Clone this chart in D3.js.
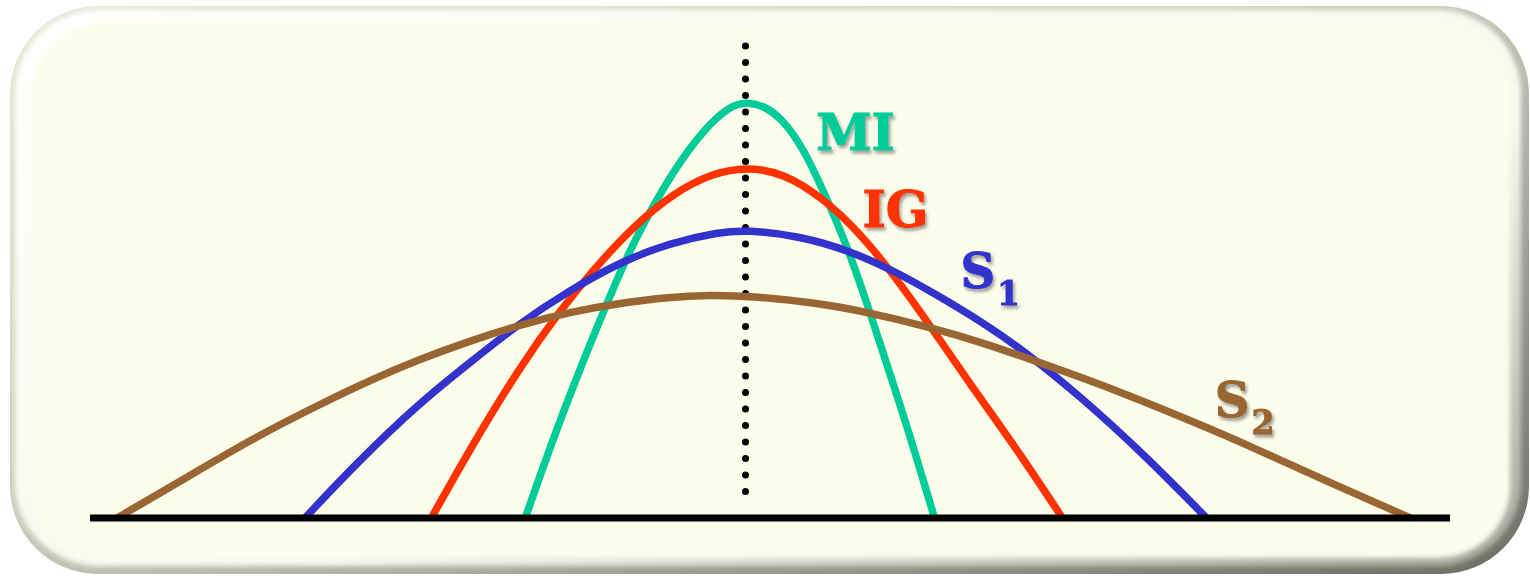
<!DOCTYPE html>
<html>
<head>
<meta charset="utf-8">
<script src="https://cdn.jsdelivr.net/npm/d3@7"></script>
<style>
  html, body { margin: 0; padding: 0; background: #ffffff; }
  svg { display: block; }
</style>
</head>
<body>
<div id="chart"></div>
<script>
// curve samples: [position, height], both in 0..100 units
const miPoints = [[32.0, 0], [34.8, 21.6], [38.0, 43.0], [40.0, 55.6], [42.9, 69.6], [45.1, 77.6], [47.0, 82.4],
  [48.3, 83.2], [49.6, 82.4], [50.9, 79.8], [52.4, 74.2], [53.9, 65.6], [55.7, 54.2], [57.1, 43.2], [58.8, 29.0],
  [60.3, 16.4], [62.1, 0]];
const igPoints = [[25.1, 0], [27.9, 13.6], [31.6, 30.2], [34.6, 41.6], [37.0, 49.6], [39.9, 58.2], [42.9, 65.0],
  [45.8, 69.0], [48.3, 70.2], [51.0, 69.0], [53.9, 64.0], [56.6, 57.0], [59.0, 49.0], [62.0, 37.6], [64.5, 27.6],
  [68.2, 13.6], [71.5, 0]];
const s1Points = [[15.8, 0], [19.6, 11.0], [24.3, 23.2], [27.9, 31.0], [31.4, 38.6], [35.3, 45.6], [39.0, 51.2],
  [42.6, 55.0], [46.3, 57.2], [48.3, 57.6], [52.2, 56.4], [55.9, 53.4], [59.0, 49.6], [62.3, 44.6], [65.7, 39.0],
  [68.6, 33.6], [72.8, 24.4], [77.7, 12.2], [82.1, 0]];
const s2Points = [[2.0, 0], [7.4, 8.6], [12.3, 16.4], [17.1, 23.0], [20.8, 27.8], [24.3, 31.8], [27.9, 35.4],
  [31.6, 38.6], [35.3, 41.2], [39.0, 43.0], [42.6, 44.2], [45.6, 44.6], [48.5, 44.4], [53.5, 43.0], [57.1, 41.2],
  [62.0, 38.0], [65.7, 35.0], [69.3, 31.6], [72.8, 28.2], [76.5, 24.4], [80.1, 20.4], [83.8, 16.2], [87.5, 11.6],
  [92.4, 5.6], [97.1, 0]];

const seriesNames = ["MI", "IG", "S", "S"];
const seriesSubs = ["", "", "1", "2"];
const seriesPoints = [miPoints, igPoints, s1Points, s2Points];
const labelAnchors = [[53.4, 73.6], [56.8, 58.2], [64.0, 46.0], [82.7, 20.2]];
const peakLine = { x: 48.2, from: 3, to: 94.4 };

const colors = ["#00cc99", "#ff3300", "#3333cc", "#996633"];

const width = 1530,
  height = 581;

const x = d3.scaleLinear().domain([0, 100]).range([90, 1450]);
const y = d3.scaleLinear().domain([0, 100]).range([518, 18]);

const svg = d3.select("#chart").append("svg").attr("width", width).attr("height", height);
const defs = svg.append("defs");

// frame gradients + shadow
const rim = defs.append("linearGradient").attr("id", "rim").attr("x1", 0).attr("y1", 0).attr("x2", 1).attr("y2", 1);
rim.append("stop").attr("offset", "0%").attr("stop-color", "#e8e8da");
rim.append("stop").attr("offset", "45%").attr("stop-color", "#cdcdbf");
rim.append("stop").attr("offset", "100%").attr("stop-color", "#6e6e66");

const shine = defs.append("linearGradient").attr("id", "shine").attr("x1", 0).attr("y1", 0).attr("x2", 1).attr("y2", 1);
shine.append("stop").attr("offset", "0%").attr("stop-color", "#ffffff");
shine.append("stop").attr("offset", "60%").attr("stop-color", "#f8f8ec");
shine.append("stop").attr("offset", "100%").attr("stop-color", "#a5a59c");

defs.append("filter").attr("id", "soft").append("feGaussianBlur").attr("stdDeviation", 2.5);

const shadow = defs.append("filter").attr("id", "txtShadow").attr("x", "-20%").attr("y", "-20%").attr("width", "140%").attr("height", "140%");
shadow.append("feDropShadow").attr("dx", 2).attr("dy", 3).attr("stdDeviation", 1.5)
  .attr("flood-color", "#555").attr("flood-opacity", 0.55);

// rounded frame
svg.append("rect").attr("x", 10).attr("y", 6).attr("width", 1519).attr("height", 568).attr("rx", 88).attr("fill", "url(#rim)");
svg.append("rect").attr("x", 15).attr("y", 10).attr("width", 1506).attr("height", 556).attr("rx", 84)
  .attr("fill", "url(#shine)").attr("filter", "url(#soft)");
svg.append("rect").attr("x", 32).attr("y", 24).attr("width", 1478).attr("height", 534).attr("rx", 72)
  .attr("fill", "#fdfdeb").attr("filter", "url(#soft)");

// dotted peak line
svg.append("line")
  .attr("x1", x(peakLine.x)).attr("x2", x(peakLine.x))
  .attr("y1", y(peakLine.to)).attr("y2", y(peakLine.from))
  .attr("stroke", "#000").attr("stroke-width", 7)
  .attr("stroke-linecap", "round").attr("stroke-dasharray", "0 16.5");

// curves
const line = d3.line().x((d) => x(d[0])).y((d) => y(d[1])).curve(d3.curveBasis);

svg.append("g")
  .selectAll("path")
  .data(seriesPoints)
  .join("path")
  .attr("d", line)
  .attr("fill", "none")
  .attr("stroke", (d, i) => colors[i])
  .attr("stroke-width", 7.5);

// baseline
svg.append("line")
  .attr("x1", x(0)).attr("x2", x(100))
  .attr("y1", y(0)).attr("y2", y(0))
  .attr("stroke", "#000").attr("stroke-width", 7);

// labels
const labels = svg.append("g")
  .attr("font-family", "'DejaVu Serif', serif")
  .attr("font-weight", "bold")
  .attr("filter", "url(#txtShadow)")
  .selectAll("text")
  .data(seriesNames)
  .join("text")
  .attr("x", (d, i) => x(labelAnchors[i][0]))
  .attr("y", (d, i) => y(labelAnchors[i][1]))
  .attr("fill", (d, i) => colors[i])
  .attr("stroke", (d, i) => colors[i])
  .attr("stroke-width", 1);

labels.append("tspan")
  .attr("font-size", (d, i) => (seriesSubs[i] ? 48 : 50))
  .text((d) => d);

labels.append("tspan")
  .attr("font-size", 33)
  .attr("dx", 2)
  .attr("dy", 17)
  .text((d, i) => seriesSubs[i]);
</script>
</body>
</html>
